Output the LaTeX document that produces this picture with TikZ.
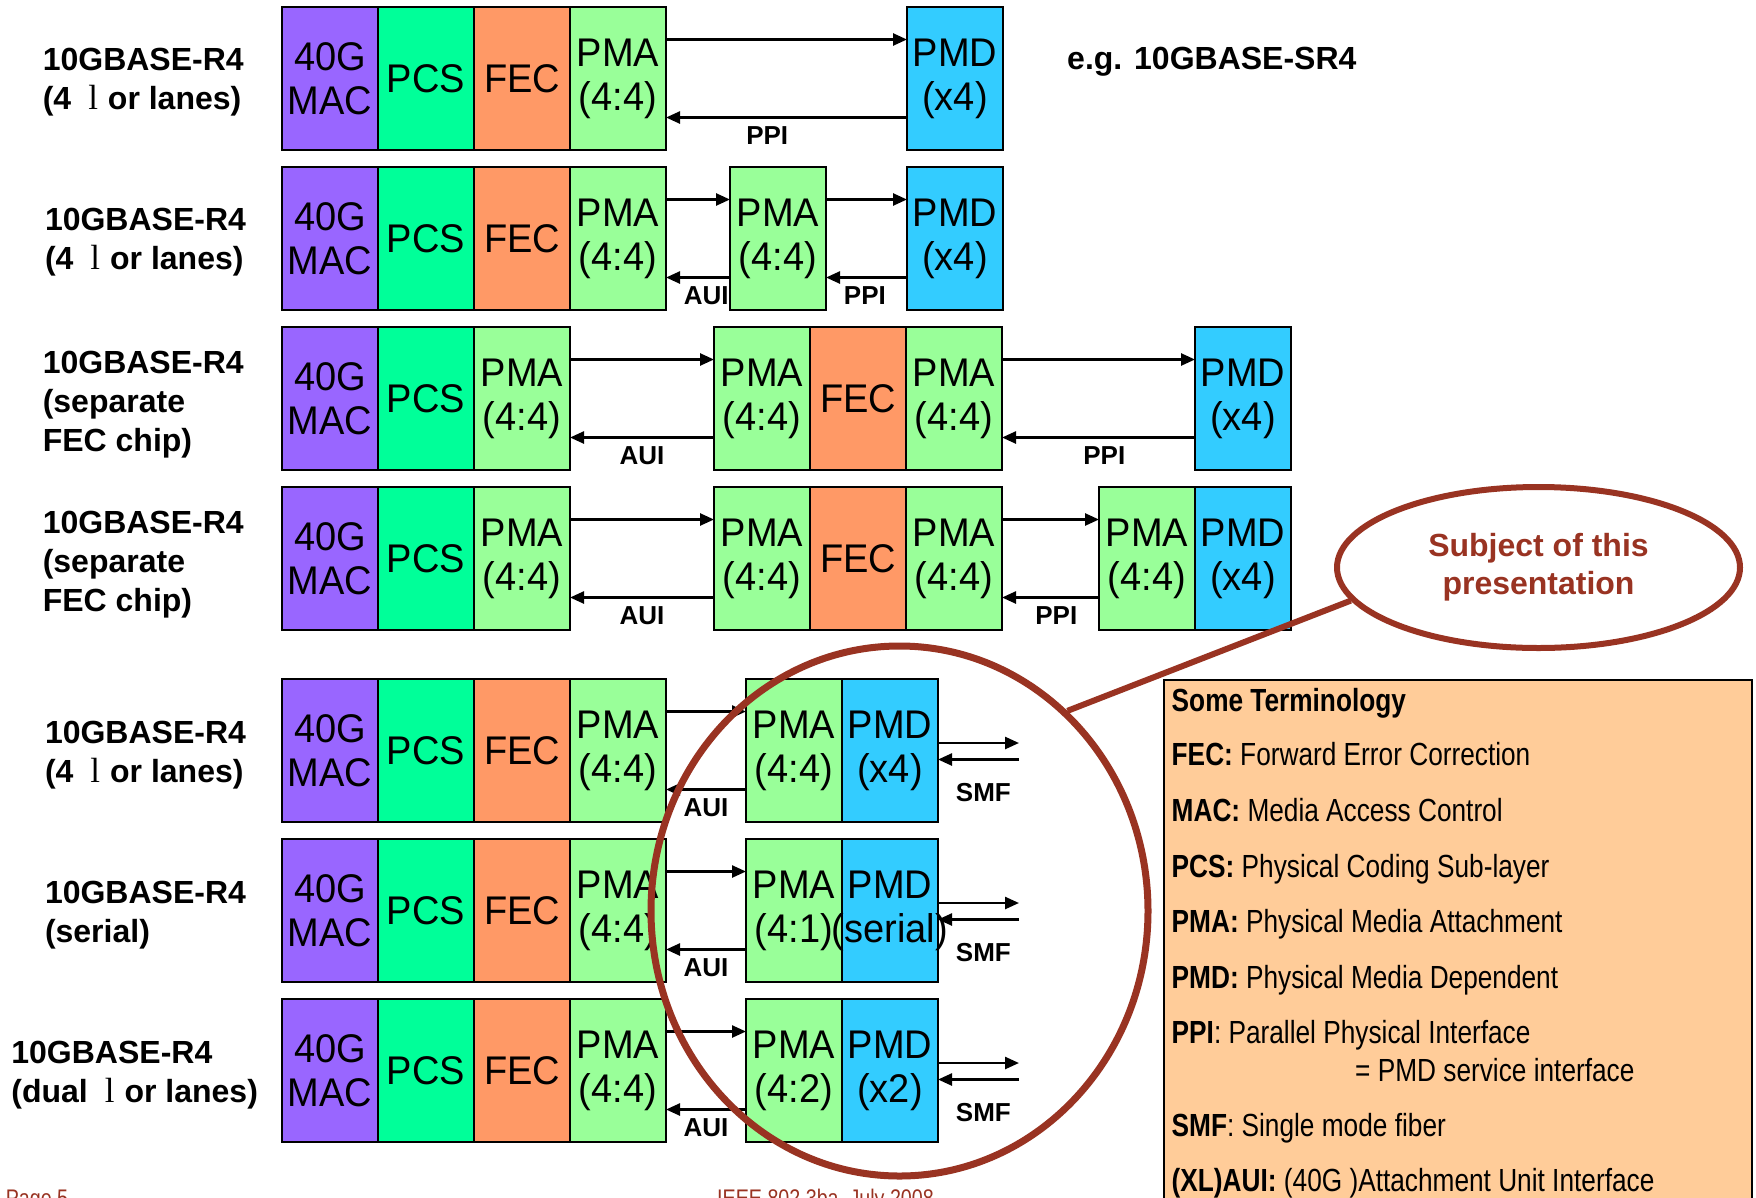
\documentclass[tikz,border=0pt]{standalone}
\usepackage{fontspec}
\setmainfont{Liberation Sans}
\newfontfamily\narrowfont[FakeStretch=0.82]{Liberation Sans}
\newfontfamily\cellfont[FakeStretch=0.95]{Liberation Sans}
\newfontfamily\lamfont{Liberation Serif}
\usetikzlibrary{arrows.meta,positioning,shapes.geometric}
\definecolor{macviolet}{HTML}{9966FF}
\definecolor{pcsgreen}{HTML}{00FF99}
\definecolor{fecorange}{HTML}{FF9966}
\definecolor{pmagreen}{HTML}{99FF99}
\definecolor{pmdblue}{HTML}{33CCFF}
\definecolor{subjred}{HTML}{993322}
\definecolor{termpeach}{HTML}{FFCC99}
\newcommand{\lam}{\hspace{17pt}{\lamfont\mdseries\fontsize{35}{39}\selectfont l}\hspace{10pt}}

\begin{document}
\begin{tikzpicture}[x=1pt, y=-1pt,
  node distance=0pt,
  cell/.style={draw=black, line width=2.5pt, minimum width=96pt, minimum height=143pt,
               inner sep=0pt, outer sep=0pt, align=center, font=\cellfont\fontsize{40}{44}\selectfont},
  mac/.style={cell, fill=macviolet},
  pcs/.style={cell, fill=pcsgreen},
  fec/.style={cell, fill=fecorange},
  pma/.style={cell, fill=pmagreen},
  pmd/.style={cell, fill=pmdblue},
  rowlabel/.style={anchor=west, align=left, inner sep=0pt, font=\bfseries\fontsize{32}{39}\selectfont},
  iface/.style={inner sep=0pt, font=\bfseries\fontsize{26}{28}\selectfont},
  sig/.style={-{Triangle[length=14pt,width=12pt]}, line width=2.5pt},
  termtext/.style={anchor=base west, inner sep=0pt, font=\narrowfont\fontsize{32}{36}\selectfont},
  footer/.style={anchor=base west, inner sep=0pt, text=subjred, font=\narrowfont\fontsize{24}{26}\selectfont}
]
\useasboundingbox (0,0) rectangle (1756,1197);
\fill[white] (0,0) rectangle (1756,1197);

% row labels
\node[rowlabel] (alabel) at (42.6,82) {10GBASE-R4\\(4\lam{}or lanes)};
\node[rowlabel] (blabel) at (44.8,242) {10GBASE-R4\\(4\lam{}or lanes)};
\node[rowlabel] (clabel) at (42.6,405) {10GBASE-R4\\(separate\\FEC chip)};
\node[rowlabel] (dlabel) at (42.6,565) {10GBASE-R4\\(separate\\FEC chip)};
\node[rowlabel] (elabel) at (44.8,755) {10GBASE-R4\\(4\lam{}or lanes)};
\node[rowlabel] (flabel) at (44.8,915) {10GBASE-R4\\(serial)};
\node[rowlabel] (glabel) at (11.2,1075) {10GBASE-R4\\(dual\lam{}or lanes)};
\node[rowlabel] (example) at (1067,62) {e.g. 10GBASE-SR4};

% row 1
\node[mac, anchor=north west] (amac) at (282,7) {40G\\MAC};
\node[pcs, right=of amac] (apcs) {PCS};
\node[fec, right=of apcs] (afec) {FEC};
\node[pma, right=of afec] (apma) {PMA\\(4:4)};
\node[pmd, anchor=north west] (apmd) at (907,7) {PMD\\(x4)};
\draw[sig] ([yshift=39pt]apma.east) -- ([yshift=39pt]apmd.west);
\draw[sig] ([yshift=-39pt]apmd.west) -- node[iface, below=8pt, pos=0.58] {PPI} ([yshift=-39pt]apma.east);

% row 2
\node[mac, anchor=north west] (bmac) at (282,167) {40G\\MAC};
\node[pcs, right=of bmac] (bpcs) {PCS};
\node[fec, right=of bpcs] (bfec) {FEC};
\node[pma, right=of bfec] (bpma) {PMA\\(4:4)};
\node[pma, anchor=north west] (bmid) at (730,167) {PMA\\(4:4)};
\node[pmd, anchor=north west] (bpmd) at (907,167) {PMD\\(x4)};
\draw[sig] ([yshift=39pt]bpma.east) -- ([yshift=39pt]bmid.west);
\draw[sig] ([yshift=-39pt]bmid.west) -- node[iface, below=8pt, pos=0.37] {AUI} ([yshift=-39pt]bpma.east);
\draw[sig] ([yshift=39pt]bmid.east) -- ([yshift=39pt]bpmd.west);
\draw[sig] ([yshift=-39pt]bpmd.west) -- node[iface, below=8pt, pos=0.52] {PPI} ([yshift=-39pt]bmid.east);

% row 3
\node[mac, anchor=north west] (cmac) at (282,327) {40G\\MAC};
\node[pcs, right=of cmac] (cpcs) {PCS};
\node[pma, right=of cpcs] (cpma) {PMA\\(4:4)};
\node[pma, anchor=north west] (cchipa) at (714,327) {PMA\\(4:4)};
\node[fec, right=of cchipa] (cchipfec) {FEC};
\node[pma, right=of cchipfec] (cchipb) {PMA\\(4:4)};
\node[pmd, anchor=north west] (cpmd) at (1195,327) {PMD\\(x4)};
\draw[sig] ([yshift=39pt]cpma.east) -- ([yshift=39pt]cchipa.west);
\draw[sig] ([yshift=-39pt]cchipa.west) -- node[iface, below=8pt] {AUI} ([yshift=-39pt]cpma.east);
\draw[sig] ([yshift=39pt]cchipb.east) -- ([yshift=39pt]cpmd.west);
\draw[sig] ([yshift=-39pt]cpmd.west) -- node[iface, below=8pt, pos=0.47] {PPI} ([yshift=-39pt]cchipb.east);

% row 4
\node[mac, anchor=north west] (dmac) at (282,487) {40G\\MAC};
\node[pcs, right=of dmac] (dpcs) {PCS};
\node[pma, right=of dpcs] (dpma) {PMA\\(4:4)};
\node[pma, anchor=north west] (dchipa) at (714,487) {PMA\\(4:4)};
\node[fec, right=of dchipa] (dchipfec) {FEC};
\node[pma, right=of dchipfec] (dchipb) {PMA\\(4:4)};
\node[pma, anchor=north west] (dmodpma) at (1099,487) {PMA\\(4:4)};
\node[pmd, right=of dmodpma] (dpmd) {PMD\\(x4)};
\draw[sig] ([yshift=39pt]dpma.east) -- ([yshift=39pt]dchipa.west);
\draw[sig] ([yshift=-39pt]dchipa.west) -- node[iface, below=8pt] {AUI} ([yshift=-39pt]dpma.east);
\draw[sig] ([yshift=39pt]dchipb.east) -- ([yshift=39pt]dmodpma.west);
\draw[sig] ([yshift=-39pt]dmodpma.west) -- node[iface, below=8pt, pos=0.44] {PPI} ([yshift=-39pt]dchipb.east);

% row 5
\node[mac, anchor=north west] (emac) at (282,679) {40G\\MAC};
\node[pcs, right=of emac] (epcs) {PCS};
\node[fec, right=of epcs] (efec) {FEC};
\node[pma, right=of efec] (epma) {PMA\\(4:4)};
\node[pma, anchor=north west] (emodpma) at (746,679) {PMA\\(4:4)};
\node[pmd, right=of emodpma] (emodpmd) {PMD\\(x4)};
\coordinate[right=81pt of emodpmd] (esmf);
\draw[sig] ([yshift=39pt]epma.east) -- ([yshift=39pt]emodpma.west);
\draw[sig] ([yshift=-39pt]emodpma.west) -- node[iface, below=8pt] {AUI} ([yshift=-39pt]epma.east);
\draw[sig] ([yshift=7.5pt]emodpmd.east) -- ([yshift=7.5pt]esmf);
\draw[sig] ([yshift=-9pt]esmf) -- node[iface, below=23pt, pos=0.44] {SMF} ([yshift=-9pt]emodpmd.east);

% row 6
\node[mac, anchor=north west] (fmac) at (282,839) {40G\\MAC};
\node[pcs, right=of fmac] (fpcs) {PCS};
\node[fec, right=of fpcs] (ffec) {FEC};
\node[pma, right=of ffec] (fpma) {PMA\\(4:4)};
\node[pma, anchor=north west] (fmodpma) at (746,839) {PMA\\(4:1)};
\node[pmd, right=of fmodpma] (fmodpmd) {PMD\\\makebox[0pt]{(serial)}};
\coordinate[right=81pt of fmodpmd] (fsmf);
\draw[sig] ([yshift=39pt]fpma.east) -- ([yshift=39pt]fmodpma.west);
\draw[sig] ([yshift=-39pt]fmodpma.west) -- node[iface, below=8pt] {AUI} ([yshift=-39pt]fpma.east);
\draw[sig] ([yshift=7.5pt]fmodpmd.east) -- ([yshift=7.5pt]fsmf);
\draw[sig] ([yshift=-9pt]fsmf) -- node[iface, below=23pt, pos=0.44] {SMF} ([yshift=-9pt]fmodpmd.east);

% row 7
\node[mac, anchor=north west] (gmac) at (282,999) {40G\\MAC};
\node[pcs, right=of gmac] (gpcs) {PCS};
\node[fec, right=of gpcs] (gfec) {FEC};
\node[pma, right=of gfec] (gpma) {PMA\\(4:4)};
\node[pma, anchor=north west] (gmodpma) at (746,999) {PMA\\(4:2)};
\node[pmd, right=of gmodpma] (gmodpmd) {PMD\\(x2)};
\coordinate[right=81pt of gmodpmd] (gsmf);
\draw[sig] ([yshift=39pt]gpma.east) -- ([yshift=39pt]gmodpma.west);
\draw[sig] ([yshift=-39pt]gmodpma.west) -- node[iface, below=8pt] {AUI} ([yshift=-39pt]gpma.east);
\draw[sig] ([yshift=7.5pt]gmodpmd.east) -- ([yshift=7.5pt]gsmf);
\draw[sig] ([yshift=-9pt]gsmf) -- node[iface, below=23pt, pos=0.44] {SMF} ([yshift=-9pt]gmodpmd.east);

% highlight
\node[ellipse, draw=subjred, line width=7pt, minimum width=497pt, minimum height=530pt, inner sep=0pt] (focus) at (899.5,911) {};
\node[ellipse, draw=subjred, line width=6pt, fill=white, minimum width=403pt, minimum height=161pt,
      inner sep=0pt, align=center, text=subjred, font=\bfseries\fontsize{32}{38}\selectfont] (subject) at (1538.5,567.5) {Subject of this\\presentation};
\draw[subjred, line width=6pt] (subject.190.3) -- (focus.50.4);

% terminology
\node[draw=black, line width=2pt, fill=termpeach, minimum width=588pt, minimum height=540pt,
      inner sep=0pt, anchor=north west] (terms) at (1162.5,678.7) {};
\node[termtext] (tsome) at (1171.5,711.5) {\textbf{Some Terminology}};
\node[termtext] (tfec) at (1171.5,765) {\textbf{FEC:} Forward Error Correction};
\node[termtext] (tmac) at (1171.5,821) {\textbf{MAC:} Media Access Control};
\node[termtext] (tpcs) at (1171.5,877) {\textbf{PCS:} Physical Coding Sub-layer};
\node[termtext] (tpma) at (1171.5,932) {\textbf{PMA:} Physical Media Attachment};
\node[termtext] (tpmd) at (1171.5,988) {\textbf{PMD:} Physical Media Dependent};
\node[termtext] (tppi) at (1171.5,1043) {\textbf{PPI}: Parallel Physical Interface};
\node[termtext] (tppib) at (1355,1081) {= PMD service interface};
\node[termtext] (tsmf) at (1171.5,1136) {\textbf{SMF}: Single mode fiber};
\node[termtext] (taui) at (1171.5,1191) {\textbf{(XL)AUI:} (40G )Attachment Unit Interface};

% footer
\node[footer] (pagenum) at (5.6,1206) {Page 5};
\node[footer] (confname) at (717,1206) {IEEE 802.3ba, July 2008};
\end{tikzpicture}
\end{document}
